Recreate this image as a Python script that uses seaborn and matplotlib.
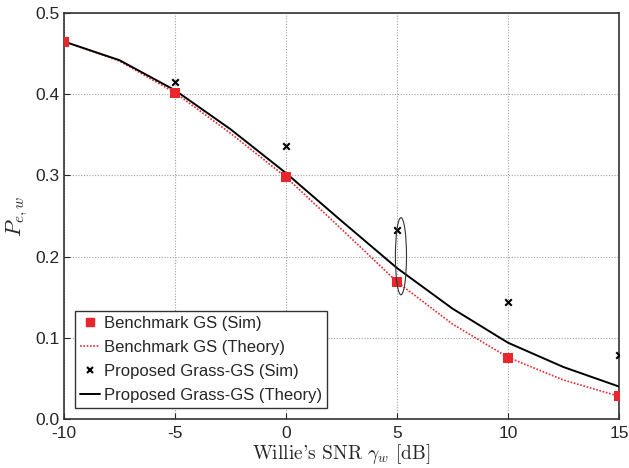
import matplotlib
matplotlib.use("Agg")
import matplotlib.pyplot as plt
from matplotlib.patches import Ellipse
from matplotlib.lines import Line2D
import seaborn as sns
import pandas as pd

# Data
snr_sim = [-10, -5, 0, 5, 10, 15]
bench_sim = [0.464, 0.402, 0.298, 0.169, 0.0755, 0.028]
grass_sim = [0.467, 0.415, 0.336, 0.233, 0.144, 0.0787]

snr_theory = [-10, -7.5, -5, -2.5, 0, 2.5, 5, 7.5, 10, 12.5, 15]
bench_theory = [0.465, 0.441, 0.402, 0.352, 0.298, 0.234, 0.169, 0.117, 0.076, 0.048, 0.028]
grass_theory = [0.465, 0.442, 0.405, 0.357, 0.303, 0.244, 0.186, 0.136, 0.094, 0.064, 0.040]

x_ticks = [-10, -5, 0, 5, 10, 15]
y_ticks = [0.0, 0.1, 0.2, 0.3, 0.4, 0.5]

sns.set_style("ticks")
plt.rcParams['font.family'] = ['Liberation Sans', 'DejaVu Sans']
plt.rcParams['mathtext.fontset'] = 'cm'

RED = '#e8262b'

fig = plt.figure(figsize=(6.29, 4.68), dpi=100)
ax = fig.add_axes([0.1017, 0.1047, 0.984 - 0.1017, 0.972 - 0.1047])

df_t = pd.DataFrame({'x': snr_theory, 'bench': bench_theory, 'grass': grass_theory})
df_s = pd.DataFrame({'x': snr_sim, 'bench': bench_sim, 'grass': grass_sim})

sns.lineplot(data=df_t, x='x', y='bench', ax=ax, color=RED, linestyle=(0, (1, 1)), linewidth=1.2, zorder=3)
sns.lineplot(data=df_t, x='x', y='grass', ax=ax, color='black', linestyle='-', linewidth=1.4, zorder=3)
sns.scatterplot(data=df_s, x='x', y='grass', ax=ax, marker='x', color='black', s=22, linewidth=1.5, zorder=4)
sns.scatterplot(data=df_s, x='x', y='bench', ax=ax, marker='s', color=RED, s=42, linewidth=0, zorder=5)

ax.add_patch(Ellipse((5.18, 0.2005), width=0.5, height=0.095, fill=False,
                     edgecolor='#333333', linewidth=0.8, zorder=6))

ax.set_xlim(-10, 15)
ax.set_ylim(0, 0.5)
ax.set_xticks(x_ticks)
ax.set_yticks(y_ticks)
ax.set_xticklabels([str(v) for v in x_ticks])
ax.set_yticklabels([f"{v:.1f}" for v in y_ticks])
ax.tick_params(direction='in', length=4, labelsize=12.5, top=False, right=False)
ax.tick_params(axis='x', pad=5)
ax.tick_params(axis='y', pad=3)
ax.grid(True, linestyle=(0, (1, 1.5)), color='#a0a0a0', linewidth=0.8)
for s in ax.spines.values():
    s.set_visible(True)
    s.set_color('#333333')
    s.set_linewidth(1.2)

ax.set_xlabel(r"Willie's SNR $\gamma_w$ [dB]", family=['cmr10', 'DejaVu Serif'], fontsize=14, labelpad=1)
ax.set_ylabel(r"$P_{e,w}$", fontsize=16, labelpad=4)

handles = [
    Line2D([], [], marker='s', color=RED, linestyle='None', markersize=6),
    Line2D([], [], color=RED, linestyle=(0, (1, 1)), linewidth=1.2),
    Line2D([], [], marker='x', color='black', linestyle='None', markersize=5, markeredgewidth=1.5),
    Line2D([], [], color='black', linewidth=1.4),
]
labels = ['Benchmark GS (Sim)', 'Benchmark GS (Theory)', 'Proposed Grass-GS (Sim)', 'Proposed Grass-GS (Theory)']
leg = ax.legend(handles, labels, loc='lower left', bbox_to_anchor=(0.0195, 0.027), fontsize=12,
                frameon=True, fancybox=False, edgecolor='#333333', framealpha=1,
                handlelength=1.2, handletextpad=0.25, borderpad=0.3, labelspacing=0.55, borderaxespad=0)
leg.get_frame().set_linewidth(1.0)

fig.savefig('out.png', dpi=100)
